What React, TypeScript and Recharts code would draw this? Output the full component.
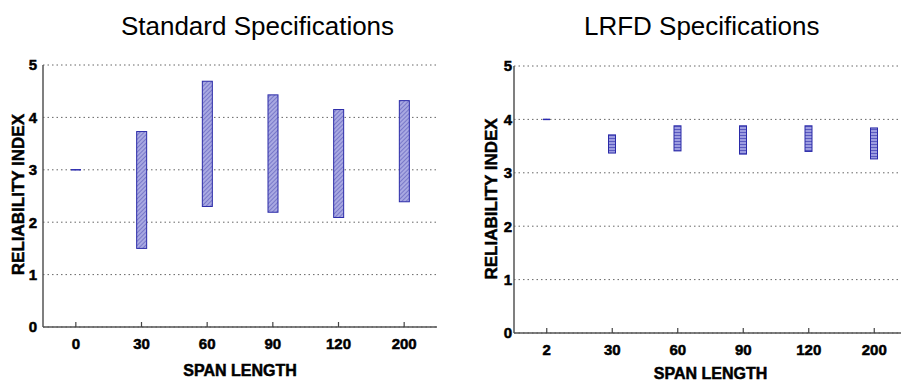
import React from 'react';
import { BarChart, Bar, XAxis, YAxis, CartesianGrid } from 'recharts';

const stdSpans = ['0', '30', '60', '90', '120', '200'];
const stdLow = [3.0, 1.5, 2.3, 2.19, 2.09, 2.39];
const stdHigh = [3.0, 3.73, 4.69, 4.43, 4.15, 4.32];

const lrfdSpans = ['2', '30', '60', '90', '120', '200'];
const lrfdLow = [4.0, 3.37, 3.41, 3.35, 3.4, 3.26];
const lrfdHigh = [4.0, 3.71, 3.88, 3.88, 3.88, 3.84];

const yTicks = [0, 1, 2, 3, 4, 5];

const FONT = '"Liberation Sans", Arial, Helvetica, sans-serif';
const AXIS = '#555';

const build = (spans: string[], low: number[], high: number[]) =>
  spans.map((s, i) => ({ span: s, range: [low[i], high[i]] }));

const stdData = build(stdSpans, stdLow, stdHigh);
const lrfdData = build(lrfdSpans, lrfdLow, lrfdHigh);

const XTick = (props: any) => {
  const { x, y, payload } = props;
  return (
    <g>
      <line x1={x} x2={x} y1={y} y2={y - 5} stroke="#444" strokeWidth={1.2} />
      <text x={x} y={y + 22} textAnchor="middle" fontFamily={FONT} fontWeight="bold" fontSize={15} fill="#000" stroke="#000" strokeWidth={0.5}>
        {payload.value}
      </text>
    </g>
  );
};

const makeShape = (pat: string) => (props: any) => {
  const { x, y, width, height } = props;
  if (!height || Math.abs(height) < 1.5) {
    return <line x1={x} x2={x + width} y1={y} y2={y} stroke="#2a2ab0" strokeWidth={1.5} />;
  }
  return <rect x={x} y={y} width={width} height={height} fill={`url(#${pat})`} stroke="#2a2aa8" strokeWidth={1} />;
};

const yLabel = (cx: number, dyOff: number) => (p: any) => {
  const vb = p.viewBox || {};
  const cy = vb.y + vb.height / 2 + dyOff;
  return (
    <text
      transform={`translate(${vb.x + cx},${cy}) rotate(-90)`}
      textAnchor="middle"
      dominantBaseline="central"
      fontFamily={FONT}
      fontWeight="bold"
      fontSize={17}
      fill="#000"
      stroke="#000"
      strokeWidth={0.5}
    >
      RELIABILITY INDEX
    </text>
  );
};

const xLabel = (off: number) => (p: any) => {
  const vb = p.viewBox || {};
  return (
    <text x={vb.x + vb.width / 2} y={vb.y + off} textAnchor="middle" fontFamily={FONT} fontWeight="bold" fontSize={16} fill="#000" stroke="#000" strokeWidth={0.5}>
      SPAN LENGTH
    </text>
  );
};

const tickStyle = { fill: '#000', fontSize: 15, fontWeight: 'bold', fontFamily: FONT, stroke: '#000', strokeWidth: 0.5 };

export default function App() {
  return (
    <div style={{ position: 'absolute', left: 0, top: 0, width: 901, height: 381, overflow: 'hidden', background: '#fff' }}>
      <svg width={901} height={45} style={{ position: 'absolute', left: 0, top: 0 }}>
        <text x={257.5} y={34.5} textAnchor="middle" fontFamily={FONT} fontSize={26} fill="#000">
          Standard Specifications
        </text>
        <text x={701.7} y={34.5} textAnchor="middle" fontFamily={FONT} fontSize={26} fill="#000">
          LRFD Specifications
        </text>
      </svg>

      <div style={{ position: 'absolute', left: 0, top: 0 }}>
        <BarChart width={450} height={381} data={stdData} margin={{ top: 65, right: 13, bottom: 0, left: 0 }}>
          <defs>
            <pattern id="hatchStd" width="3" height="3" patternUnits="userSpaceOnUse" patternTransform="rotate(45)">
              <rect width="3" height="3" fill="#a9a9e2" />
              <line x1="0" y1="0" x2="0" y2="3" stroke="#5858b8" strokeWidth="1.2" />
            </pattern>
          </defs>
          <CartesianGrid vertical={false} stroke="#666" strokeDasharray="1.5 3" />
          <XAxis
            dataKey="span"
            height={54}
            interval={0}
            tick={<XTick />}
            tickLine={false}
            tickSize={0}
            tickMargin={0}
            axisLine={{ stroke: AXIS, strokeWidth: 1.5 }}
            label={{ content: xLabel(49) }}
          />
          <XAxis xAxisId="top" orientation="top" dataKey="span" height={0} tick={false} tickLine={false} axisLine={{ stroke: AXIS, strokeWidth: 1.5 }} />
          <YAxis
            width={43}
            domain={[0, 5]}
            ticks={yTicks}
            tick={tickStyle}
            tickLine={false}
            tickSize={0}
            tickMargin={6}
            axisLine={{ stroke: AXIS, strokeWidth: 1.5 }}
            label={{ content: yLabel(18.5, -1.4) }}
          />
          <YAxis yAxisId="r" orientation="right" width={0} domain={[0, 5]} tick={false} tickLine={false} axisLine={{ stroke: AXIS, strokeWidth: 1.5 }} />
          <Bar dataKey="range" barSize={10} shape={makeShape('hatchStd')} isAnimationActive={false} />
        </BarChart>
      </div>

      <div style={{ position: 'absolute', left: 450, top: 0 }}>
        <BarChart width={460} height={381} data={lrfdData} margin={{ top: 66, right: 3, bottom: 0, left: 0 }}>
          <defs>
            <pattern id="hatchLrfd" width="4" height="3" patternUnits="userSpaceOnUse">
              <rect width="4" height="3" fill="#9c9ce0" />
              <line x1="0" y1="0.5" x2="4" y2="0.5" stroke="#5a5ac0" strokeWidth="1" />
            </pattern>
          </defs>
          <CartesianGrid vertical={false} stroke="#666" strokeDasharray="1.5 3" />
          <XAxis
            dataKey="span"
            height={48}
            interval={0}
            tick={<XTick />}
            tickLine={false}
            tickSize={0}
            tickMargin={0}
            axisLine={{ stroke: AXIS, strokeWidth: 1.5 }}
            label={{ content: xLabel(46) }}
          />
          <XAxis xAxisId="top" orientation="top" dataKey="span" height={0} tick={false} tickLine={false} axisLine={{ stroke: AXIS, strokeWidth: 1.5 }} />
          <YAxis
            width={64}
            domain={[0, 5]}
            ticks={yTicks}
            tick={tickStyle}
            tickLine={false}
            tickSize={0}
            tickMargin={2}
            axisLine={{ stroke: AXIS, strokeWidth: 1.5 }}
            label={{ content: yLabel(41, -0.5) }}
          />
          <YAxis yAxisId="r" orientation="right" width={0} domain={[0, 5]} tick={false} tickLine={false} axisLine={{ stroke: AXIS, strokeWidth: 1.5 }} />
          <Bar dataKey="range" barSize={7} shape={makeShape('hatchLrfd')} isAnimationActive={false} />
        </BarChart>
      </div>
    </div>
  );
}
